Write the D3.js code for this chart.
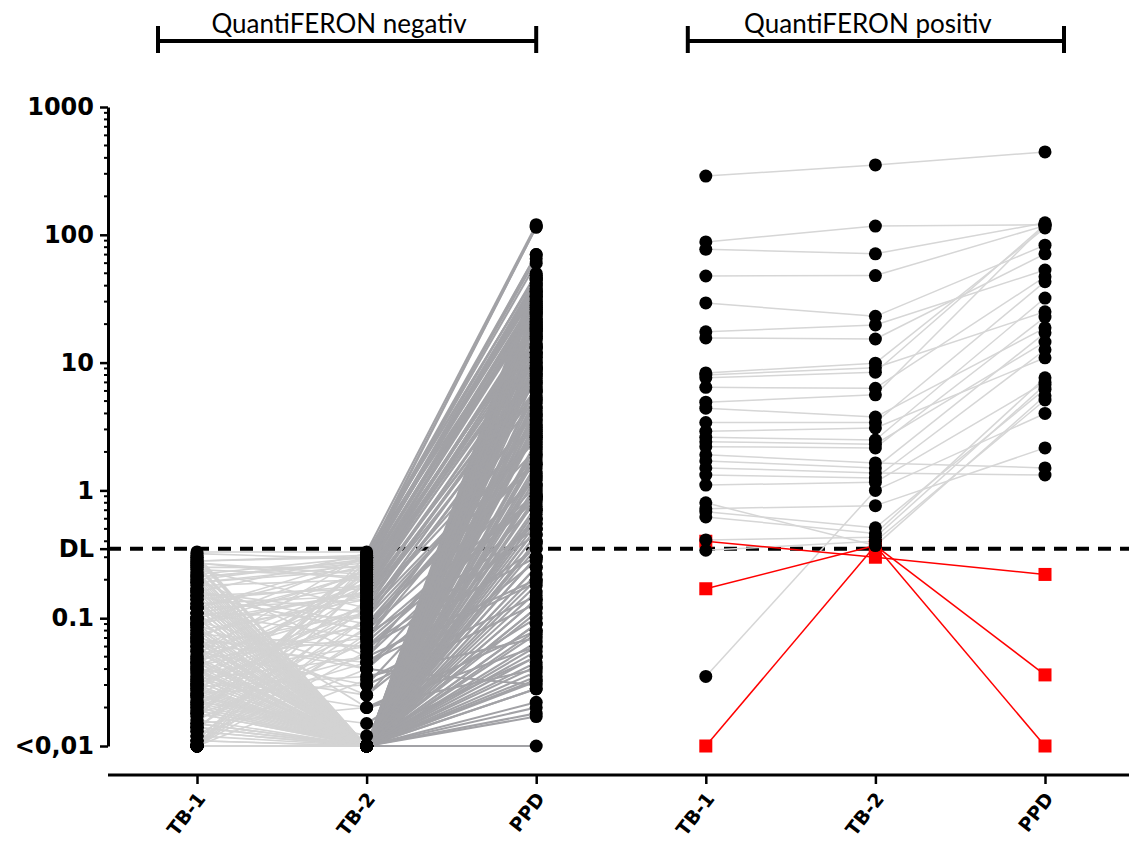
<!DOCTYPE html>
<html><head><meta charset="utf-8">
<script src="https://cdn.jsdelivr.net/npm/d3@7"></script>
<style>body{margin:0;background:#fff}</style>
</head><body>
<svg id="c" width="1129" height="843"></svg>
<script>
// ---------- data ----------
const categories = ["TB-1","TB-2","PPD","TB-1","TB-2","PPD"];
const groupLabels = ["QuantiFERON negativ","QuantiFERON positiv"];
const yTickValues = [0.01, 0.1, 0.35, 1, 10, 100, 1000];
const yTickLabels = ["<0,01","0.1","DL","1","10","100","1000"];
const detectionLimit = 0.35;

// QuantiFERON negative subjects (paired TB-1, TB-2, PPD)
const negTB1 = [
 0.33,0.3,0.28,0.26,0.25,0.24,0.22,0.21,0.2,0.19,
 0.18,0.17,0.16,0.15,0.15,0.14,0.14,0.13,0.13,0.12,
 0.12,0.11,0.11,0.1,0.1,0.095,0.09,0.09,0.085,0.08,
 0.08,0.075,0.07,0.07,0.065,0.06,0.06,0.055,0.055,0.05,
 0.05,0.048,0.045,0.045,0.042,0.04,0.04,0.038,0.036,0.035,
 0.034,0.033,0.032,0.03,0.03,0.029,0.028,0.027,0.026,0.025,
 0.025,0.024,0.023,0.022,0.022,0.021,0.02,0.02,0.019,0.018,
 0.018,0.017,0.016,0.016,0.015,0.015,0.014,0.014,0.013,0.013,
 0.012,0.012,0.011,0.011,0.01,0.01,0.01,0.01,0.01,0.01,
 0.01,0.01,0.01,0.01,0.01,0.01,0.01,0.01,0.01,0.01,
 0.31,0.27,0.23,0.2,0.17,0.16,0.13,0.11,0.1,0.09,
 0.085,0.075,0.068,0.062,0.057,0.052,0.047,0.043,0.039,0.037,
 0.034,0.031,0.029,0.026,0.024,0.021,0.019,0.017,0.015,0.012,
 0.29,0.25,0.21,0.18,0.14,0.12,0.08,0.06,0.04,0.028,
 0.22,0.19,0.15,0.11,0.095,0.07,0.05,0.033,0.022,0.014,
 0.26,0.2,0.16,0.13,0.1,0.065,0.045,0.03,0.02,0.01,
 0.32,0.28,0.24,0.19,0.15,0.12,0.09,0.065,0.045,0.03,
 0.018,0.013,0.011,0.01,0.01,0.027,0.048,0.07,0.11,0.17,
 0.3,0.23,0.17,0.14,0.1,0.075,0.055,0.038,0.025,0.015,
 0.27,0.21,0.16,0.12,0.09,0.06,0.042,0.028,0.018,0.011,
 0.19,0.15,0.12,0.085,0.065,0.045,0.032,0.021,0.014,0.01
];
const negTB2 = [
 0.33,0.01,0.3,0.01,0.25,0.12,0.01,0.28,0.05,0.01,
 0.2,0.01,0.32,0.08,0.01,0.18,0.01,0.02,0.15,0.01,
 0.26,0.01,0.1,0.01,0.22,0.04,0.01,0.3,0.01,0.14,
 0.01,0.06,0.01,0.24,0.01,0.11,0.01,0.03,0.01,0.19,
 0.01,0.07,0.01,0.16,0.01,0.025,0.01,0.09,0.01,0.21,
 0.01,0.05,0.01,0.13,0.01,0.035,0.01,0.27,0.01,0.012,
 0.01,0.17,0.01,0.015,0.01,0.08,0.01,0.23,0.01,0.045,
 0.01,0.28,0.01,0.065,0.01,0.02,0.01,0.12,0.01,0.31,
 0.01,0.04,0.01,0.19,0.01,0.1,0.01,0.27,0.01,0.055,
 0.01,0.01,0.14,0.01,0.033,0.01,0.2,0.01,0.075,0.01,
 0.01,0.2,0.01,0.29,0.01,0.09,0.01,0.18,0.01,0.025,
 0.01,0.15,0.01,0.045,0.01,0.32,0.01,0.11,0.01,0.06,
 0.01,0.25,0.01,0.03,0.01,0.13,0.01,0.22,0.01,0.085,
 0.01,0.01,0.01,0.01,0.01,0.01,0.01,0.01,0.01,0.01,
 0.3,0.24,0.17,0.07,0.16,0.04,0.12,0.02,0.05,0.1,
 0.01,0.01,0.01,0.01,0.01,0.01,0.01,0.01,0.01,0.01,
 0.29,0.31,0.21,0.26,0.08,0.14,0.23,0.06,0.18,0.11,
 0.01,0.01,0.01,0.01,0.01,0.01,0.01,0.01,0.01,0.01,
 0.01,0.01,0.01,0.01,0.01,0.01,0.01,0.01,0.01,0.01,
 0.22,0.27,0.11,0.3,0.16,0.19,0.09,0.13,0.24,0.07,
 0.01,0.01,0.01,0.01,0.01,0.01,0.01,0.01,0.01,0.01
];
const negPPD = [
 120,8,115,0.5,45,3.2,12,70,0.9,22,
 30,1.8,48,2.5,0.16,16,5,0.04,9,0.7,
 40,0.3,6,25,18,1.1,0.06,36,3.8,11,
 14,0.45,2.2,28,0.12,7,33,0.8,1.4,20,
 0.09,4.5,10,13,0.25,0.6,42,2.8,0.028,26,
 6.5,0.2,0.035,8.5,1.6,0.07,17,50,0.4,0.05,
 3,15,0.018,0.1,24,1.2,0.55,32,9.5,0.35,
 0.14,36,5.5,0.9,0.033,0.08,19,4,2,65,
 0.7,0.03,12,22,0.01,2.6,0.22,44,0.045,1.3,
 4.2,0.017,7.5,27,0.15,1,14,0.065,0.5,35,
 2.4,21,0.11,38,6,1.7,0.05,13,16,0.28,
 0.6,10.5,3.5,0.19,30,48,0.08,5.2,1.1,0.3,
 11,26,0.4,0.13,4.8,7.8,0.9,18,0.038,2.1,
 23,0.25,8.8,1.5,0.022,3.3,46,0.45,13.5,0.75,
 29,34,12,2.7,19,0.55,9,0.06,1.9,5.8,
 0.35,15.5,2.9,0.18,37,6.8,0.12,21,1.25,0.028,
 115,70,25,42,3.6,11.5,31,0.85,17.5,7.2,
 0.65,4.4,0.02,10,0.09,28,1.35,0.042,2.3,0.5,
 0.2,3.9,0.075,16.5,0.6,9.2,0.032,1.9,40,0.3,
 27,45,2.6,60,8.2,20,1.6,6.2,33,0.95,
 5.3,0.14,24,1.05,0.38,13,0.055,3.1,0.85,18.5
];

// QuantiFERON positive subjects (paired TB-1, TB-2, PPD)
const posTB1 = [288,88,77,47.6,29.3,17.4,15.6,8.3,8.0,7.6,
 6.4,4.9,4.4,3.4,2.9,2.6,2.4,2.2,1.9,1.7,
 1.5,1.32,1.1,0.80,0.72,0.68,0.62,0.41,0.34,0.035];
const posTB2 = [352,117,71,48,23,19.7,15.3,9.9,9.1,8.4,
 6.3,5.6,3.75,3.4,3.08,2.48,2.3,2.15,1.64,1.5,
 1.37,1.25,1.16,0.37,0.76,0.51,0.46,0.43,0.40,1.0];
const posPPD = [445,120,124,118,83,53,71,113,25,120,
 47,120,18.7,43,10.9,32,14.5,22.7,1.5,17.1,
 1.32,12.6,7.0,5.5,2.15,6.2,7.6,6.7,5.1,4.0];

// QuantiFERON positive subjects shown in red
const redTB1 = [0.40, 0.17, 0.01];
const redTB2 = [0.30, 0.37, 0.37];
const redPPD = [0.22, 0.036, 0.01];

// ---------- chart ----------
const svg = d3.select("#c");
const W = 1129;
const y = d3.scaleLog().domain([0.01, 1000]).range([746, 107]);
const x = d3.scalePoint().domain(d3.range(categories.length)).range([197, 1045]);
const axisX = 108, baseY = 775;
const R = 6.5;

// detection limit dashed line
svg.append("line")
  .attr("x1", axisX).attr("x2", W)
  .attr("y1", y(detectionLimit)).attr("y2", y(detectionLimit))
  .attr("stroke", "#000").attr("stroke-width", 4).attr("stroke-dasharray", "13,9");

function segs(g, a, b, ia, ib, color, w) {
  g.append("g").selectAll("line").data(d3.range(a.length)).join("line")
    .attr("x1", x(ia)).attr("x2", x(ib))
    .attr("y1", i => y(a[i])).attr("y2", i => y(b[i]))
    .attr("stroke", color).attr("stroke-width", w);
}
function dots(g, vals, idx) {
  g.append("g").selectAll("circle").data(vals).join("circle")
    .attr("cx", x(idx)).attr("cy", d => y(d)).attr("r", R).attr("fill", "#000");
}

// negative group
const gNeg = svg.append("g");
segs(gNeg, negTB1, negTB2, 0, 1, "#d3d3d3", 1.6);
segs(gNeg, negTB2, negPPD, 1, 2, "#a2a2a6", 2.1);
dots(gNeg, negTB1, 0);
dots(gNeg, negTB2, 1);
dots(gNeg, negPPD, 2);

// positive group
const gPos = svg.append("g");
segs(gPos, posTB1, posTB2, 3, 4, "#d6d6d6", 1.5);
segs(gPos, posTB2, posPPD, 4, 5, "#d6d6d6", 1.5);
segs(gPos, redTB1, redTB2, 3, 4, "#ff0000", 1.5);
segs(gPos, redTB2, redPPD, 4, 5, "#ff0000", 1.5);
const S = 13;
[[redTB1,3],[redTB2,4],[redPPD,5]].forEach(([vals, idx]) => {
  gPos.append("g").selectAll("rect").data(vals).join("rect")
    .attr("x", x(idx) - S/2).attr("y", d => y(d) - S/2)
    .attr("width", S).attr("height", S).attr("fill", "#ff0000");
});
dots(gPos, posTB1, 3);
dots(gPos, posTB2, 4);
dots(gPos, posPPD, 5);

// y axis
const yAxis = d3.axisLeft(y).tickValues(yTickValues)
  .tickFormat((d, i) => yTickLabels[i]).tickSize(8).tickSizeOuter(0).tickPadding(6);
const gy = svg.append("g").attr("transform", `translate(${axisX},0)`).call(yAxis);
gy.select(".domain").attr("stroke", "#000").attr("stroke-width", 3);
gy.selectAll(".tick line").attr("stroke", "#000").attr("stroke-width", 2.5);
gy.selectAll(".tick text").attr("font-family", "DejaVu Sans").attr("font-weight", "bold")
  .attr("font-size", 24).attr("fill", "#000");
const minor = [];
for (let e = -2; e < 3; e++) for (let m = 2; m <= 9; m++) minor.push(m * Math.pow(10, e));
gy.append("g").selectAll("line").data(minor).join("line")
  .attr("x1", -4).attr("x2", 0).attr("y1", d => y(d)).attr("y2", d => y(d))
  .attr("stroke", "#000").attr("stroke-width", 2);

// x axis
svg.append("line").attr("x1", axisX).attr("x2", W).attr("y1", baseY).attr("y2", baseY)
  .attr("stroke", "#000").attr("stroke-width", 3);
const xAxis = d3.axisBottom(x).tickSize(9).tickFormat(i => categories[i]).tickSizeOuter(0);
const gx = svg.append("g").attr("transform", `translate(0,${baseY})`).call(xAxis);
gx.select(".domain").remove();
gx.selectAll(".tick line").attr("stroke", "#000").attr("stroke-width", 2.5);
gx.selectAll(".tick text")
  .attr("font-family", "DejaVu Sans").attr("font-weight", "bold").attr("font-size", 19)
  .attr("fill", "#000").attr("text-anchor", "end")
  .attr("dy", 0).attr("y", 0)
  .attr("transform", "translate(9,24) rotate(-52)");

// group brackets
const brackets = [
  {x1: x(0) - 39, x2: x(2), label: groupLabels[0]},
  {x1: x(3) - 18, x2: x(5) + 19, label: groupLabels[1]}
];
const bY = 41;
brackets.forEach(b => {
  const g = svg.append("g");
  g.append("line").attr("x1", b.x1).attr("x2", b.x2).attr("y1", bY).attr("y2", bY)
    .attr("stroke", "#000").attr("stroke-width", 4);
  [b.x1, b.x2].forEach(xx => g.append("line").attr("x1", xx).attr("x2", xx)
    .attr("y1", bY - 15).attr("y2", bY + 12).attr("stroke", "#000").attr("stroke-width", 4));
  g.append("text").attr("x", (b.x1 + b.x2) / 2 - 8).attr("y", bY - 8)
    .attr("text-anchor", "middle").attr("font-family", "Lato").attr("font-size", 26)
    .attr("fill", "#000").text(b.label);
});
</script>
</body></html>
